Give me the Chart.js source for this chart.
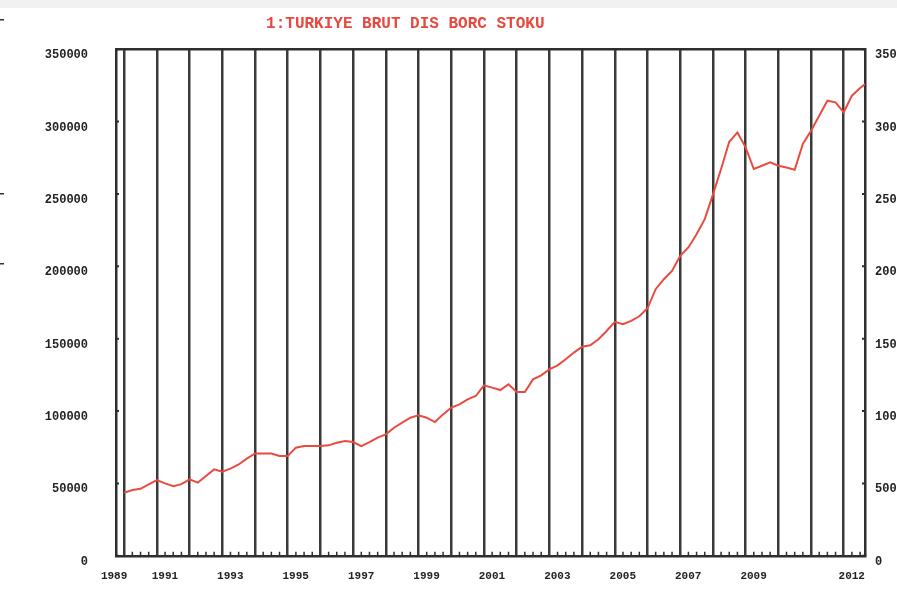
<!DOCTYPE html>
<html><head><meta charset="utf-8">
<script src="https://cdn.jsdelivr.net/npm/chart.js@4/dist/chart.umd.min.js"></script>
<style>html,body{margin:0;padding:0;background:#fff;overflow:hidden}#wrap{width:897px;height:591px;position:relative}</style>
</head><body><div id="wrap"><canvas id="c" width="897" height="591"></canvas></div>
<script>
// ---- data ----
const chartTitle = '1:TURKIYE BRUT DIS BORC STOKU';
const years = [1990,1991,1992,1993,1994,1995,1996,1997,1998,1999,2000,2001,2002,2003,2004,2005,2006,2007,2008,2009,2010,2011,2012];
const quarters = ['Q1','Q2','Q3','Q4'];
const yearLabels = ['1989','1991','1993','1995','1997','1999','2001','2003','2005','2007','2009','2012'];
const yTickLabels = ['0','50000','100000','150000','200000','250000','300000','350000'];
// gross external debt stock, quarterly 1990Q1 .. 2012Q4
const debtStock = [
  43600, 45400, 46300, 49300,
  52300, 50000, 48100, 49500,
  52800, 50500, 55100, 59700,
  58100, 60200, 63100, 67100,
  70700, 70700, 70700, 68900,
  68900, 74700, 75800, 75800,
  75800, 76300, 78100, 79300,
  78600, 75800, 78600, 81600,
  83900, 88500, 92000, 95400,
  97000, 95400, 92400, 97700,
  102400, 104600, 108100, 110400,
  117800, 116200, 114500, 118500,
  113100, 113100, 121900, 124700,
  128800, 131600, 135800, 140400,
  144500, 145400, 149600, 155300,
  161600, 160000, 162300, 165500,
  171000, 184200, 191100, 196800,
  207200, 213000, 222200, 232600,
  249500, 267200, 286000, 292500,
  282200, 267200, 269500, 271800,
  269500, 268300, 266700, 284500,
  293700, 304000, 314400, 313300,
  306400, 317900, 323200, 327500
];

// ---- build ----
const periods = [];
years.forEach(y => quarters.forEach((q, i) => periods.push({ label: y + q, x: y + i / 4 })));
const points = periods.map((p, i) => ({ x: p.x, y: debtStock[i] }));
const yMax = Number(yTickLabels[yTickLabels.length - 1]);
const yStep = Number(yTickLabels[1]);
const xMin = years[0] - 0.25;
const xMax = 2012.65;

const MONO = '"Liberation Mono", "DejaVu Sans Mono", monospace';
const INK = '#2e2e2e';

const framePlugin = {
  id: 'frame',
  beforeDraw(chart) {
    const c = chart.ctx;
    c.save();
    c.fillStyle = '#ffffff';
    c.fillRect(0, 0, chart.width, chart.height);
    c.fillStyle = '#f1f1f1';
    c.fillRect(0, 0, chart.width, 8);
    c.restore();
  },
  afterDraw(chart) {
    const c = chart.ctx, a = chart.chartArea;
    const xs = chart.scales.x, ys = chart.scales.y;
    c.save();
    c.strokeStyle = INK;
    // top border
    c.lineWidth = 2.5;
    c.beginPath(); c.moveTo(a.left - 1, a.top); c.lineTo(a.right + 1, a.top); c.stroke();
    // quarter minor ticks on bottom axis
    c.lineWidth = 1.5;
    c.beginPath();
    periods.forEach((p, i) => {
      if (i % 4 === 0) return;
      const px = xs.getPixelForValue(p.x);
      if (px < a.left || px > a.right) return;
      c.moveTo(px, a.bottom); c.lineTo(px, a.bottom - 4);
    });
    c.stroke();
    // small inner tick marks on left/right axes
    c.lineWidth = 2;
    c.beginPath();
    yTickLabels.forEach(t => {
      const py = ys.getPixelForValue(Number(t));
      c.moveTo(a.left, py); c.lineTo(a.left + 3, py);
      c.moveTo(a.right, py); c.lineTo(a.right - 3, py);
    });
    c.stroke();
    // page-edge marks
    c.fillStyle = '#333';
    [19, 193, 263].forEach(y => c.fillRect(0, y, 4, 1.5));
    c.restore();
  }
};

const yTicks = {
  stepSize: yStep,
  color: '#222',
  labelOffset: 6,
  font: { family: MONO, size: 12, weight: 'bold' },
  callback: v => String(v)
};

new Chart(document.getElementById('c'), {
  type: 'line',
  data: {
    datasets: [{
      data: points,
      borderColor: '#ea4b40',
      borderWidth: 2,
      pointRadius: 0,
      tension: 0,
      fill: false
    }]
  },
  options: {
    responsive: false,
    animation: false,
    devicePixelRatio: 1,
    parsing: false,
    layout: { padding: 0 },
    plugins: {
      legend: { display: false },
      tooltip: { enabled: false },
      title: {
        display: true,
        text: chartTitle + '         ',
        color: '#e8483e',
        font: { family: MONO, size: 16, weight: 'bold' },
        padding: { top: 14, bottom: 16 }
      }
    },
    scales: {
      x: {
        type: 'linear',
        min: xMin,
        max: xMax,
        afterBuildTicks: s => { s.ticks = [xMin].concat(years).map(v => ({ value: v })); },
        afterFit: s => { s.height = 35; },
        ticks: {
          autoSkip: false,
          maxRotation: 0,
          minRotation: 0,
          labelOffset: 8,
          padding: 14,
          color: '#222',
          font: { family: MONO, size: 11, weight: 'bold' },
          callback: v => {
            if (v === xMin) return yearLabels[0] + '   ';
            const s = String(v);
            return yearLabels.indexOf(s) > 0 ? s : '';
          }
        },
        grid: {
          display: true,
          drawTicks: false,
          lineWidth: 2.5,
          color: ctx => (ctx.tick && ctx.tick.value === xMin) ? 'rgba(0,0,0,0)' : '#3a3a3a'
        },
        border: { display: true, color: INK, width: 2.5 }
      },
      y: {
        position: 'left',
        min: 0,
        max: yMax,
        afterFit: s => { s.width = 116; },
        ticks: Object.assign({ padding: 28 }, yTicks),
        grid: { display: false, drawTicks: false },
        border: { display: true, color: INK, width: 2.5 }
      },
      y2: {
        position: 'right',
        min: 0,
        max: yMax,
        afterFit: s => { s.width = 32; },
        ticks: Object.assign({ padding: 10 }, yTicks),
        grid: { display: false, drawTicks: false },
        border: { display: true, color: INK, width: 2.5 }
      }
    }
  },
  plugins: [framePlugin]
});
</script>
</body></html>
